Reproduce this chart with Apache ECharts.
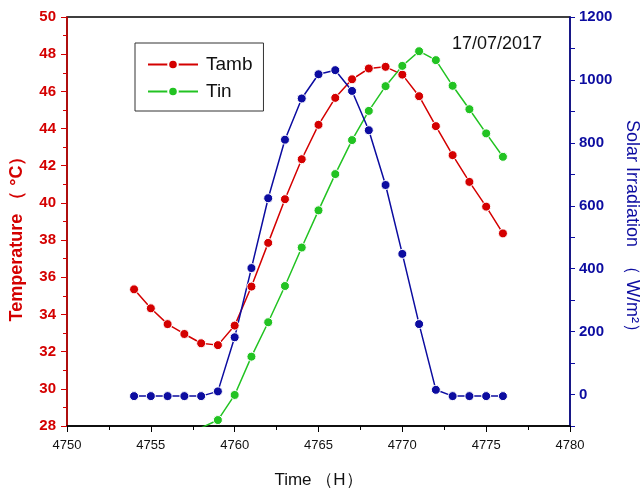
<!DOCTYPE html>
<html>
<head>
<meta charset="utf-8">
<script src="https://cdn.jsdelivr.net/npm/echarts@6/dist/echarts.min.js"></script>
<style>
  html, body { margin: 0; padding: 0; background: #fff; }
  #chart { width: 641px; height: 494px; }
</style>
</head>
<body>
<div id="chart"></div>
<script>
// 时间（小时）
const hours = [4754, 4755, 4756, 4757, 4758, 4759, 4760, 4761, 4762, 4763, 4764, 4765,
               4766, 4767, 4768, 4769, 4770, 4771, 4772, 4773, 4774, 4775, 4776];
// 环境温度
const tamb = [35.35, 34.33, 33.48, 32.95, 32.45, 32.35, 33.4, 35.5, 37.85, 40.2, 42.35, 44.2,
              45.65, 46.65, 47.23, 47.32, 46.9, 45.74, 44.13, 42.57, 41.13, 39.8, 38.36];
// 室内温度
const tin = [null, null, null, null, 27.9, 28.32, 29.67, 31.73, 33.58, 35.53, 37.6, 39.6,
             41.55, 43.38, 44.95, 46.28, 47.37, 48.16, 47.68, 46.3, 45.04, 43.74, 42.48];
// 太阳辐照
const solar = [-5, -5, -5, -5, -5, 10, 182, 402, 624, 810, 941, 1018,
               1031, 965, 840, 666, 447, 224, 15, -5, -5, -5, -5];

const RED = '#d40000';
const GREEN = '#22c322';
const BLUE = '#0c0ca0';

function pairs(values) {
    return hours.map((h, i) => [h, values[i]]);
}

const chart = echarts.init(document.getElementById('chart'));

const option = {
    animation: false,
    backgroundColor: '#fff',
    textStyle: { fontFamily: 'Liberation Sans, Arial, sans-serif' },
    grid: {
        left: 67, right: 71, top: 17, bottom: 68,
        containLabel: false,
        outerBoundsMode: 'none',
        show: true, borderColor: '#000', borderWidth: 1.5
    },
    legend: {
        data: ['Tamb', 'Tin'],
        orient: 'vertical',
        left: 135, top: 43,
        padding: [12, 11, 10, 12],
        itemGap: 8,
        itemWidth: 50, itemHeight: 12,
        borderColor: '#333', borderWidth: 1,
        textStyle: { fontSize: 19, color: '#111', padding: [0, 0, 0, 3] }
    },
    graphic: [{
        type: 'text',
        left: 452, top: 35,
        style: { text: '17/07/2017', fontSize: 18, fill: '#111', fontFamily: 'Liberation Sans, Arial' }
    }],
    xAxis: {
        type: 'value',
        min: 4750, max: 4780, interval: 5,
        name: 'Time （H）',
        nameLocation: 'middle',
        nameGap: 46,
        nameTextStyle: { fontSize: 17, color: '#111' },
        axisLine: { onZero: false, lineStyle: { color: '#000', width: 1.5 } },
        axisTick: { show: true, length: 6, lineStyle: { color: '#000' } },
        minorTick: { show: true, splitNumber: 2, length: 4, lineStyle: { color: '#000' } },
        axisLabel: { color: '#111', fontSize: 13, margin: 13, formatter: v => String(v) },
        splitLine: { show: false }
    },
    yAxis: [{
        type: 'value',
        position: 'left',
        min: 28, max: 50, interval: 2,
        name: 'Temperature （ °C）',
        nameLocation: 'middle',
        nameRotate: 90,
        nameGap: 41,
        nameTextStyle: { fontSize: 18, fontWeight: 'bold', color: RED, padding: [0, 26, 0, 0] },
        axisLine: { show: true, onZero: false, lineStyle: { color: RED, width: 1.5 } },
        axisTick: { show: true, length: 6, lineStyle: { color: RED } },
        minorTick: { show: true, splitNumber: 2, length: 4, lineStyle: { color: RED } },
        axisLabel: { color: RED, fontSize: 15, fontWeight: 'bold', margin: 11 },
        splitLine: { show: false },
        minorSplitLine: { show: false }
    }, {
        type: 'value',
        position: 'right',
        min: -100, max: 1200, interval: 100,
        name: 'Solar Irradiation  （ W/m²）',
        nameLocation: 'middle',
        nameRotate: -90,
        nameGap: 52,
        nameTextStyle: { fontSize: 18, color: BLUE, padding: [0, 0, 0, 18] },
        axisLine: { show: true, onZero: false, lineStyle: { color: BLUE, width: 1.5 } },
        axisTick: { show: true, length: 5, lineStyle: { color: BLUE } },
        axisLabel: {
            color: BLUE, fontSize: 15, fontWeight: 'bold', margin: 9,
            formatter: function (v) {
                return (v >= 0 && v % 200 === 0) ? String(v) : '';
            }
        },
        splitLine: { show: false }
    }],
    series: [{
        name: 'Tamb',
        type: 'line',
        yAxisIndex: 0,
        data: pairs(tamb),
        symbol: 'circle', symbolSize: 9,
        itemStyle: { color: RED, borderColor: '#fff', borderWidth: 1 },
        lineStyle: { color: RED, width: 1.5 }
    }, {
        name: 'Tin',
        type: 'line',
        yAxisIndex: 0,
        data: pairs(tin),
        symbol: 'circle', symbolSize: 9,
        itemStyle: { color: GREEN, borderColor: '#fff', borderWidth: 1 },
        lineStyle: { color: GREEN, width: 1.5 }
    }, {
        name: 'Solar',
        type: 'line',
        yAxisIndex: 1,
        data: pairs(solar),
        symbol: 'circle', symbolSize: 9,
        itemStyle: { color: BLUE, borderColor: '#fff', borderWidth: 1 },
        lineStyle: { color: BLUE, width: 1.5 }
    }]
};

chart.setOption(option);
</script>
</body>
</html>
